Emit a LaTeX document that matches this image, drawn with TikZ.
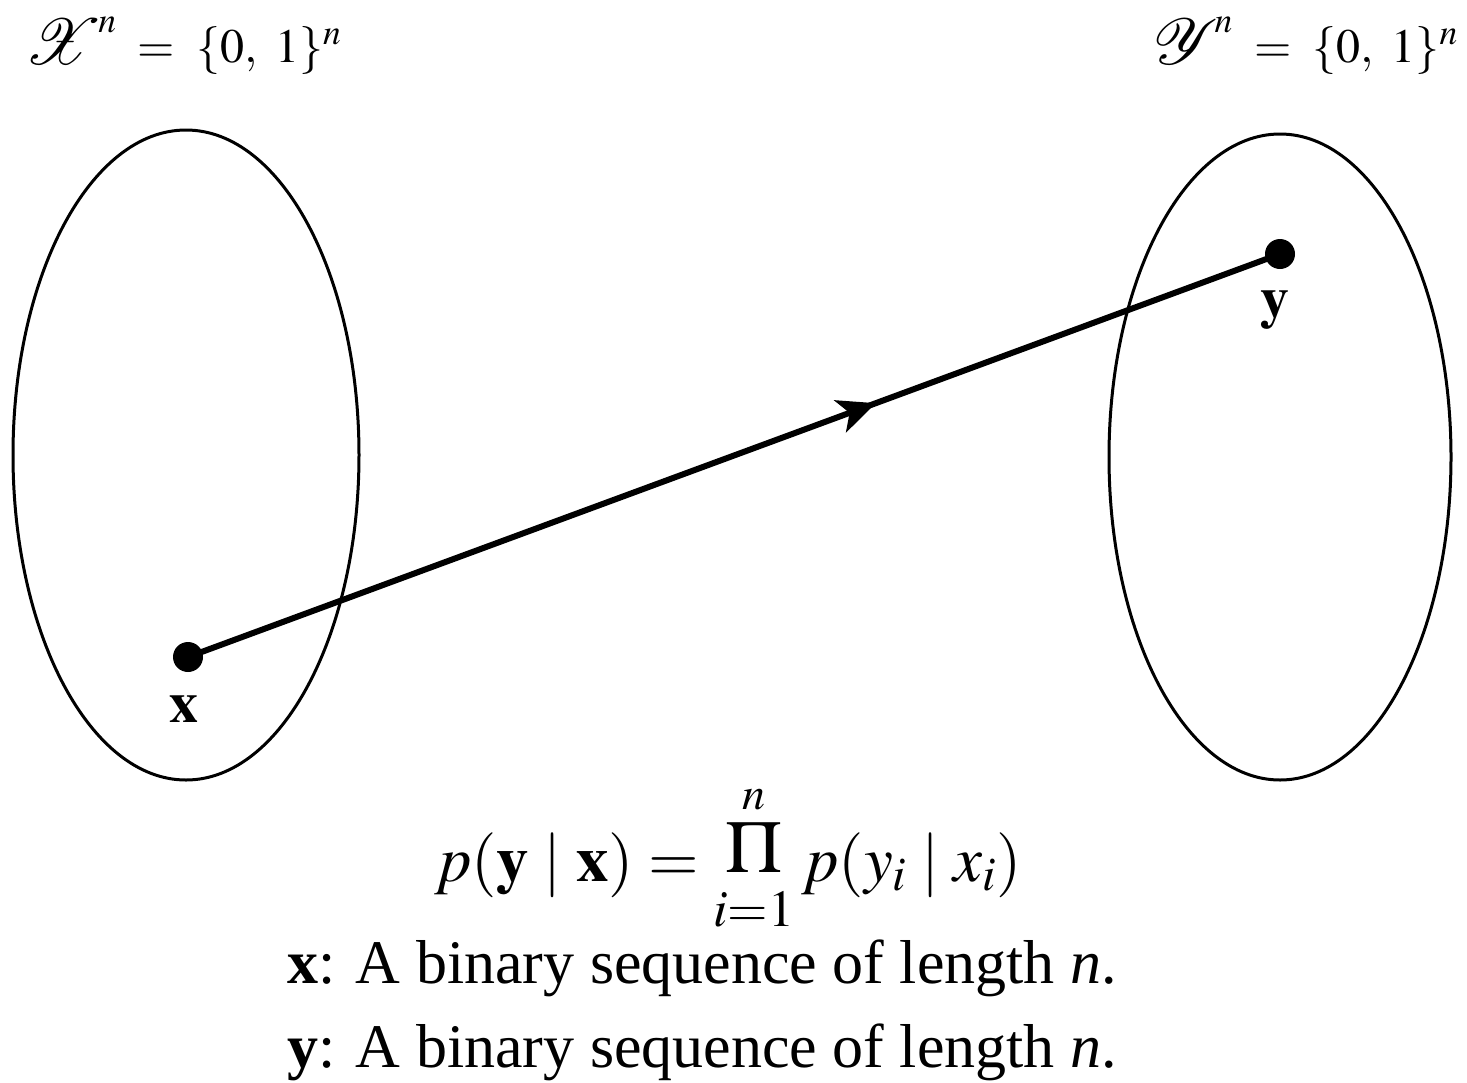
\documentclass[tikz,border=0pt]{standalone}
\usepackage{mathptmx}
\usepackage{mathrsfs}
\DeclareFontFamily{U}{rsfs}{\skewchar\font127 }
\DeclareFontShape{U}{rsfs}{m}{n}{<-> rsfs10}{}
\usepackage[no-math]{fontspec}
\setmainfont{Liberation Serif}
\usetikzlibrary{decorations.markings,arrows.meta}
\newcommand{\bigscr}[1]{\mathord{\raisebox{-2pt}{\scalebox{1.35}{$\mathscr{#1}$}}}}
\newcommand{\prodsym}{\mathop{\raisebox{9pt}{\fontsize{74}{74}\selectfont$\Pi$}}\limits_{\hbox{\fontsize{52}{52}\selectfont$i{=}1$}}^{\hbox{\fontsize{46}{46}\selectfont$n$}}}
\tikzset{
  setbox/.style={draw=black, line width=3pt},
  pt/.style={circle, fill=black, inner sep=0pt, minimum size=30pt},
  lbl/.style={inner sep=0pt},
  chan/.style={line width=6pt, postaction={decorate},
    decoration={markings, mark=at position 0.63 with {\arrow{Stealth[length=38pt,width=34pt,inset=10pt]}}}}
}
\begin{document}
\begin{tikzpicture}[x=1pt,y=-1pt]
\useasboundingbox (0,0) rectangle (1467,1082);
% sets
\draw[setbox] (186,455) ellipse [x radius=173, y radius=325];
\draw[setbox] (1280,457) ellipse [x radius=171, y radius=323];
% titles
\node[lbl, anchor=base west, font=\fontsize{48}{56}\selectfont] (X) at (24,62) {$\bigscr{X}^{\mkern-2mu n} \;=\; \{0,\ 1\}^n$};
\node[lbl, anchor=base east, font=\fontsize{48}{56}\selectfont] (Y) at (1458,62) {$\bigscr{Y}^{\mkern-2mu n} \;=\; \{0,\ 1\}^n$};
% points
\node[pt] (x) at (188,657) {};
\node[pt] (y) at (1280,254) {};
\node[lbl, anchor=base, font=\fontsize{58}{60}\selectfont] (xl) at (184,722) {$\mathbf{x}$};
\node[lbl, anchor=base, font=\fontsize{58}{60}\selectfont] (yl) at (1275,317) {$\mathbf{y}$};
% channel
\draw[chan] (x.center) -- (y.center);
% formula
\node[lbl, anchor=base, font=\fontsize{65}{70}\selectfont] (f) at (728,881)
  {$p(\mathbf{y}\mid\mathbf{x}) = \prodsym p(y_i\mid x_i)$};
\node[lbl, anchor=base, font=\fontsize{62}{70}\selectfont] (t1) at (702,983)
  {\textbf{x}: A binary sequence of length \textit{n}.};
\node[lbl, anchor=base, font=\fontsize{62}{70}\selectfont] (t2) at (702,1067)
  {\textbf{y}: A binary sequence of length \textit{n}.};
\end{tikzpicture}
\end{document}
